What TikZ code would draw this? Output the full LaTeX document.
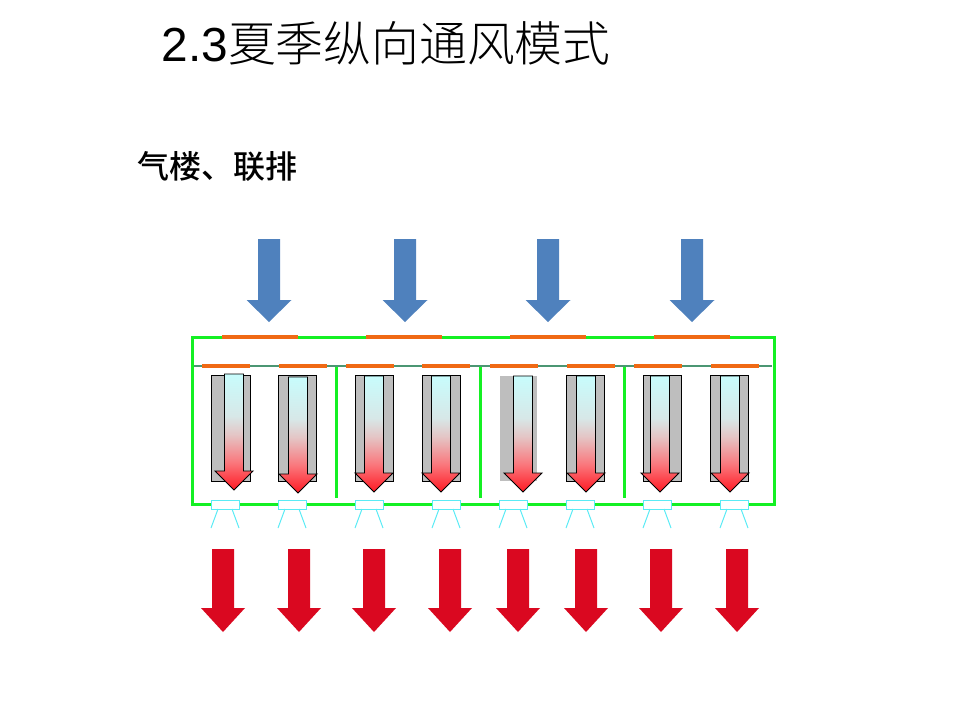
\documentclass[tikz,border=0pt]{standalone}
\usepackage{fontspec}
\setmainfont{Liberation Sans}
\newfontfamily\cjk{Noto Sans CJK SC Medium}
\newfontfamily\cjklight{Noto Sans CJK SC Light}
\definecolor{frameGreen}{RGB}{20,240,35}
\definecolor{ventOrange}{RGB}{240,105,20}
\definecolor{ventTeal}{RGB}{75,150,115}
\definecolor{inBlue}{RGB}{79,129,189}
\definecolor{outRed}{RGB}{218,8,32}
\definecolor{lampCyan}{RGB}{90,235,245}
\definecolor{boxGray}{RGB}{190,190,190}
\definecolor{airTop}{RGB}{200,252,252}
\definecolor{airCool}{RGB}{215,232,232}
\definecolor{airMid}{RGB}{228,198,198}
\definecolor{airWarm}{RGB}{250,120,125}
\definecolor{airHot}{RGB}{255,25,35}
\pgfdeclareverticalshading{warmair}{100bp}{
  color(0bp)=(airHot);
  color(25bp)=(airHot);
  color(37bp)=(airWarm);
  color(49bp)=(airMid);
  color(57bp)=(airCool);
  color(75bp)=(airTop);
  color(100bp)=(airTop)}
\tikzset{
  wall/.style={draw=frameGreen,line width=3pt},
  vent/.style={draw=ventOrange,line width=4pt},
  warm/.style={draw=black,line width=.9pt,shading=warmair},
}
% block arrow: centre x, top y, half shaft, half head, head y, tip y
\newcommand{\blockarrow}[7][]{%
  \path[#1] (#2-#4,#3) -- (#2+#4,#3) -- (#2+#4,#6) -- (#2+#5,#6) -- (#2,#7) -- (#2-#5,#6) -- (#2-#4,#6) -- cycle;}
\begin{document}
\begin{tikzpicture}[x=1pt,y=-1pt]
  \useasboundingbox (0,0) rectangle (960,720);
  \node[anchor=west,inner sep=0pt,font=\fontsize{47.8}{50}\selectfont] (title) at (161.5,43) {2.3{\cjklight 夏季纵向通风模式}};
  \node[anchor=west,inner sep=0pt,font=\fontsize{32}{34}\selectfont\cjk] (subtitle) at (137,166) {气楼、联排};
  % fresh air
  \foreach \xc in {269,405,548,692}
    \blockarrow[fill=inBlue]{\xc}{239}{11}{22.5}{300}{322};
  % frame
  \draw[wall] (192,337) rectangle (774,504);
  \foreach \xc in {336,480,624}
    \draw[wall] (\xc,366) -- (\xc,498);
  \draw[ventTeal,line width=2.8pt] (194,366) -- (772,366);
  \foreach \xa in {222,366,510,654}
    \draw[vent] (\xa,337) -- ++(76,0);
  \foreach \xa in {202,279,346,422,490,567,634,711}
    \draw[vent] (\xa,366) -- ++(48,0);
  % boxes
  \foreach \xa/\xb in {211/250,278/316,355/393,422/460,566/604,643/681,710/748}
    \draw[fill=boxGray,line width=.9pt] (\xa,375.5) rectangle (\xb,481);
  \fill[boxGray] (500,375.5) rectangle (537,481);
  % warm air
  \foreach \xc/\yt in {234/374,298/377,374/376,441/376,523/376,586/376,660/376,730/376}
    \blockarrow[warm]{\xc}{\yt}{9.5}{19}{\yt+97}{\yt+116};
  % lamps
  \foreach \xc in {225,292,369,446,513,580,657,734}{
    \draw[lampCyan,line width=1pt,fill=white] (\xc-14,500) rectangle (\xc+14,509);
    \draw[lampCyan,line width=1pt] (\xc-7,509) -- (\xc-14,528) (\xc+7,509) -- (\xc+14,528);
  }
  % exhaust
  \foreach \xc in {223,299,374,450,518,586,661,737}
    \blockarrow[fill=outRed]{\xc}{549}{11}{22}{608}{632};
\end{tikzpicture}
\end{document}
